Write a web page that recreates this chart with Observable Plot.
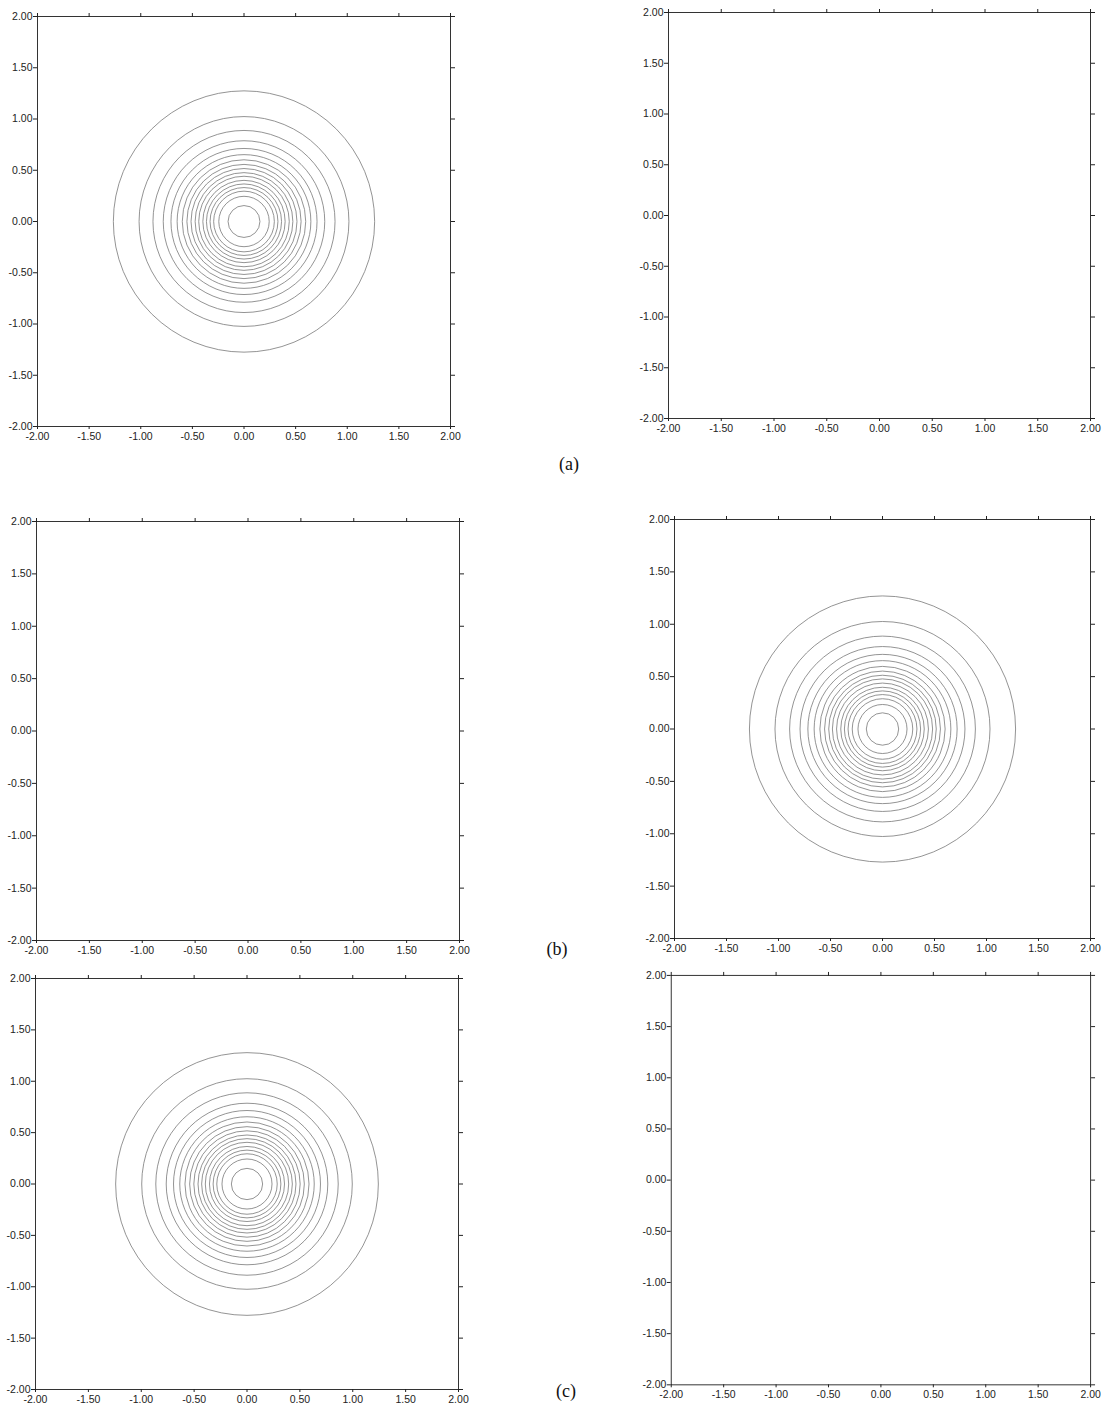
<!DOCTYPE html>
<html>
<head>
<meta charset="utf-8">
<script src="https://cdn.jsdelivr.net/npm/d3@7"></script>
<script src="https://cdn.jsdelivr.net/npm/@observablehq/plot@0.6"></script>
<style>
  html, body { margin: 0; padding: 0; background: #fff; }
  #page { position: relative; width: 1104px; height: 1404px; background: #fff; overflow: hidden; }
  .panel { position: absolute; }
  .caption { position: absolute; font-family: "Liberation Serif", "Times New Roman", serif; font-size: 18px; color: #111; transform: translate(-50%, -50%); white-space: nowrap; }
</style>
</head>
<body>
<div id="page"></div>
<script>
// ---- data ----
const tickValues = [-2, -1.5, -1, -0.5, 0, 0.5, 1, 1.5, 2];
const panelLabels = ["(a)", "(b)", "(c)"];
// contour ring radii (data units) for each panel; empty panels have no contours
const ringsALeft  = [1.27, 1.02, 0.885, 0.785, 0.71, 0.65, 0.60, 0.555, 0.515, 0.475, 0.44, 0.40, 0.365, 0.33, 0.295, 0.245, 0.155];
const ringsARight = [];
const ringsBLeft  = [];
const ringsBRight = [1.275, 1.03, 0.89, 0.79, 0.715, 0.655, 0.60, 0.555, 0.515, 0.48, 0.44, 0.40, 0.365, 0.33, 0.29, 0.235, 0.155];
const ringsCLeft  = [1.26, 1.01, 0.875, 0.775, 0.705, 0.645, 0.595, 0.55, 0.51, 0.47, 0.435, 0.40, 0.36, 0.325, 0.29, 0.24, 0.15];
const ringsCRight = [];

// ---- layout (frame position in page pixels) ----
const layout = [
  {rings: ringsALeft,  left: 37,  top: 16,  w: 413, h: 410},
  {rings: ringsARight, left: 668, top: 12,  w: 422, h: 406},
  {rings: ringsBLeft,  left: 36,  top: 521, w: 423, h: 419},
  {rings: ringsBRight, left: 674, top: 519, w: 416, h: 419},
  {rings: ringsCLeft,  left: 35,  top: 978, w: 423, h: 411},
  {rings: ringsCRight, left: 671, top: 975, w: 422, h: 412}
];
const captionPos = [
  {x: 569, y: 464},
  {x: 557, y: 949},
  {x: 566, y: 1391}
];

const fmt = d => d.toFixed(2);
const blank = () => "";

function makePanel(rings, W, H) {
  const mL = 40, mT = 12, mR = 14, mB = 22;
  return Plot.plot({
    width: W + mL + mR,
    height: H + mT + mB,
    marginLeft: mL, marginTop: mT, marginRight: mR, marginBottom: mB,
    x: {domain: [-2, 2]},
    y: {domain: [-2, 2]},
    r: {type: "linear", domain: [0, 2], range: [0, (W + H) / 4]},
    style: {fontFamily: "'Liberation Sans', Arial, sans-serif", fontSize: "10.5px", color: "#222", background: "transparent", overflow: "visible"},
    marks: [
      Plot.frame({stroke: "#333", strokeWidth: 1}),
      Plot.axisX({anchor: "bottom", ticks: tickValues, tickFormat: fmt, tickSize: 3, tickPadding: 3, label: null}),
      Plot.axisX({anchor: "top", ticks: tickValues, tickFormat: blank, tickSize: 4, label: null}),
      Plot.axisY({anchor: "left", ticks: tickValues, tickFormat: fmt, tickSize: 4, tickPadding: 1, label: null}),
      Plot.axisY({anchor: "right", ticks: tickValues, tickFormat: blank, tickSize: 4, label: null}),
      Plot.dot(rings, {x: () => 0, y: () => 0, r: d => d, stroke: "#707070", strokeWidth: 0.75, fill: "none"})
    ]
  });
}

const page = document.getElementById("page");
layout.forEach(p => {
  const svg = makePanel(p.rings, p.w, p.h);
  const div = document.createElement("div");
  div.className = "panel";
  div.style.left = (p.left - 40) + "px";
  div.style.top = (p.top - 12) + "px";
  div.appendChild(svg);
  page.appendChild(div);
});
panelLabels.forEach((t, i) => {
  const el = document.createElement("div");
  el.className = "caption";
  el.textContent = t;
  el.style.left = captionPos[i].x + "px";
  el.style.top = captionPos[i].y + "px";
  page.appendChild(el);
});
</script>
</body>
</html>
